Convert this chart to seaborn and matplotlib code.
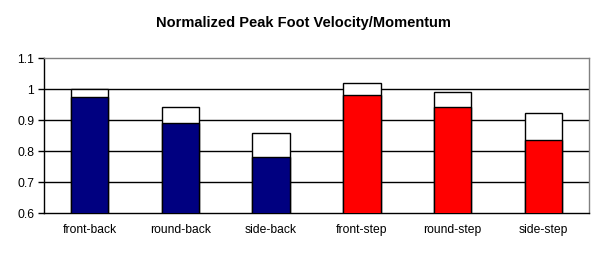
import matplotlib
matplotlib.use("Agg")
import matplotlib.pyplot as plt
import seaborn as sns
import numpy as np

categories = ["front-back", "round-back", "side-back", "front-step", "round-step", "side-step"]
base_values = [0.975, 0.889, 0.780, 0.980, 0.941, 0.834]
total_values = [1.000, 0.943, 0.857, 1.020, 0.991, 0.922]
bar_colors = ["#000080", "#000080", "#000080", "#FF0000", "#FF0000", "#FF0000"]
yticks = [0.6, 0.7, 0.8, 0.9, 1.0, 1.1]
ytick_labels = ["0.6", "0.7", "0.8", "0.9", "1", "1.1"]

sns.set_style("white")
plt.rcParams["font.family"] = ["Liberation Sans", "DejaVu Sans"]
plt.rcParams["text.color"] = "black"
plt.rcParams["xtick.color"] = "black"
plt.rcParams["ytick.color"] = "black"
plt.rcParams["axes.labelcolor"] = "black"

fig = plt.figure(figsize=(6.06, 2.54), dpi=100)
ax = fig.add_axes([44/606, 41/254, 545/606, 155/254])

for y in [0.7, 0.8, 0.9, 1.0]:
    ax.axhline(y, color="black", linewidth=1.0, zorder=0.5)

sns.barplot(x=categories, y=total_values, color="white", edgecolor="black",
            linewidth=1.0, width=0.41, ax=ax, saturation=1, zorder=2)
sns.barplot(x=categories, y=base_values, hue=categories, palette=bar_colors,
            edgecolor="black", linewidth=1.0, width=0.41, ax=ax,
            saturation=1, legend=False, zorder=3)

ax.set_ylim(0.6, 1.1)
ax.set_xlim(-0.5, 5.5)
ax.set_yticks(yticks)
ax.set_yticklabels(ytick_labels, fontsize=8.7, color="black")
ax.set_xticks(range(len(categories)))
ax.set_xticklabels(categories, fontsize=8.7, color="black")
ax.set_xticks(np.arange(-0.5, 6.0, 1.0), minor=True)
ax.tick_params(axis="x", which="major", length=0, pad=8)
ax.tick_params(axis="x", which="minor", length=4, width=1, direction="out", color="black")
ax.tick_params(axis="y", length=4, width=1, direction="out", color="black", pad=3, left=True)
ax.set_xlabel("")
ax.set_ylabel("")

for s in ["left", "bottom"]:
    ax.spines[s].set_color("black")
    ax.spines[s].set_linewidth(1.0)
for s in ["top", "right"]:
    ax.spines[s].set_visible(True)
    ax.spines[s].set_color("#808080")
    ax.spines[s].set_linewidth(1.0)

fig.text(0.5, 1 - 23/254, "Normalized Peak Foot Velocity/Momentum",
         ha="center", va="center", fontsize=10.5, fontweight="bold", color="black")

fig.savefig("out.png", dpi=100)
